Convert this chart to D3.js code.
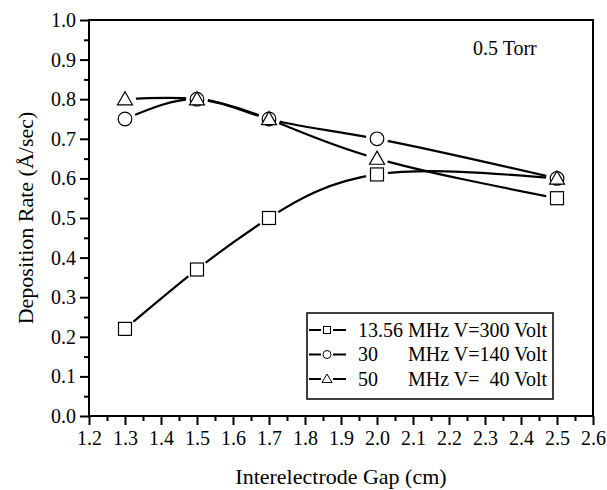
<!DOCTYPE html>
<html><head><meta charset="utf-8">
<script src="https://cdn.jsdelivr.net/npm/d3@7"></script>
<style>body{margin:0;background:#fff}svg{display:block}text{font-family:"Liberation Serif","Times New Roman",serif;fill:#000}</style>
</head><body><svg id="c" width="607" height="490"></svg>
<script>
const gaps = [1.3, 1.5, 1.7, 2.0, 2.5];
// marker values as plotted
const rate1356 = [0.22, 0.37, 0.50, 0.61, 0.55];
const rate30 = [0.75, 0.80, 0.75, 0.70, 0.60];
const rate50 = [0.80, 0.80, 0.75, 0.65, 0.60];
// connecting curves as drawn in the figure (last segments end at the other series' marker)
const curve1356 = [0.22, 0.37, 0.50, 0.61, 0.60];
const curve30 = [0.75, 0.80, 0.75, 0.70, 0.60];
const curve50 = [0.80, 0.80, 0.75, 0.65, 0.55];
const seriesNames = ["13.56 MHz V=300 Volt", "30      MHz V=140 Volt", "50      MHz V=  40 Volt"];
const seriesMarkers = ["square", "circle", "triangle"];
const xTicks = [1.2,1.3,1.4,1.5,1.6,1.7,1.8,1.9,2.0,2.1,2.2,2.3,2.4,2.5,2.6];
const yTicks = [0.0,0.1,0.2,0.3,0.4,0.5,0.6,0.7,0.8,0.9,1.0];
const annotation = "0.5 Torr";

const svg = d3.select("#c");
const L = 89, R = 593, T = 20, B = 416;
const x = d3.scaleLinear().domain([1.2, 2.6]).range([L, R]);
const y = d3.scaleLinear().domain([0, 1]).range([B, T]);

const xMinor = d3.range(1.25, 2.6, 0.1);
const yMinor = d3.range(0.05, 1.0, 0.1);
svg.append("g").attr("transform", `translate(0,${B})`)
  .call(d3.axisBottom(x).tickValues(xTicks).tickFormat(d3.format(".1f")).tickSize(9).tickPadding(6))
  .call(g => g.select(".domain").remove())
  .call(g => g.selectAll("line").attr("stroke-width", 2))
  .call(g => g.selectAll("text").attr("font-size", 20));
svg.append("g").attr("transform", `translate(0,${B})`)
  .call(d3.axisBottom(x).tickValues(xMinor).tickFormat("").tickSize(5))
  .call(g => g.select(".domain").remove())
  .call(g => g.selectAll("line").attr("stroke-width", 2));
svg.append("g").attr("transform", `translate(${L},0)`)
  .call(d3.axisLeft(y).tickValues(yTicks).tickFormat(d3.format(".1f")).tickSize(9).tickPadding(4))
  .call(g => g.select(".domain").remove())
  .call(g => g.selectAll("line").attr("stroke-width", 2))
  .call(g => g.selectAll("text").attr("font-size", 20));
svg.append("g").attr("transform", `translate(${L},0)`)
  .call(d3.axisLeft(y).tickValues(yMinor).tickFormat("").tickSize(5))
  .call(g => g.select(".domain").remove())
  .call(g => g.selectAll("line").attr("stroke-width", 2));

svg.append("rect").attr("x", L).attr("y", T).attr("width", R - L).attr("height", B - T)
  .attr("fill", "none").attr("stroke", "#000").attr("stroke-width", 2);

svg.append("text").attr("x", (L + R) / 2).attr("y", 484).attr("text-anchor", "middle")
  .attr("font-size", 22).text("Interelectrode Gap (cm)");
svg.append("text").attr("transform", `translate(33,${(T + B) / 2}) rotate(-90)`).attr("text-anchor", "middle")
  .attr("font-size", 22).text("Deposition Rate (Å/sec)");
svg.append("text").attr("x", 473).attr("y", 55).attr("font-size", 20).text(annotation);

const series = [rate1356, rate30, rate50];
const curves = [curve1356, curve30, curve50];
const defs = svg.append("defs");
const line = d3.line().x(d => x(d[0])).y(d => y(d[1])).curve(d3.curveNatural);

function marker(g, type, cx, cy) {
  if (type === "square") {
    g.append("rect").attr("x", cx - 6.5).attr("y", cy - 6.5).attr("width", 13).attr("height", 13)
      .attr("fill", "#fff").attr("stroke", "#000").attr("stroke-width", 1.2);
  } else if (type === "circle") {
    g.append("circle").attr("cx", cx).attr("cy", cy).attr("r", 6.8)
      .attr("fill", "#fff").attr("stroke", "#000").attr("stroke-width", 1.2);
  } else {
    const s = 7.5;
    g.append("path").attr("d", `M${cx},${cy - s}L${cx + s},${cy + s * 0.75}L${cx - s},${cy + s * 0.75}Z`)
      .attr("fill", "#fff").attr("stroke", "#000").attr("stroke-width", 1.2);
  }
}

curves.forEach((vals, i) => {
  const pts = gaps.map((g, j) => [g, vals[j]]);
  const m = defs.append("mask").attr("id", "m" + i).attr("maskUnits", "userSpaceOnUse")
    .attr("x", 0).attr("y", 0).attr("width", 607).attr("height", 490);
  m.append("rect").attr("width", 607).attr("height", 490).attr("fill", "#fff");
  pts.forEach(p => m.append("circle").attr("cx", x(p[0])).attr("cy", y(p[1])).attr("r", 11).attr("fill", "#000"));
  svg.append("path").datum(pts).attr("d", line).attr("fill", "none").attr("stroke", "#000")
    .attr("stroke-width", 2.2).attr("mask", `url(#m${i})`);
});
series.forEach((vals, i) => {
  const g = svg.append("g");
  gaps.forEach((gp, j) => marker(g, seriesMarkers[i], x(gp), y(vals[j])));
});

const lg = svg.append("g");
lg.append("rect").attr("x", 307).attr("y", 313).attr("width", 246).attr("height", 86)
  .attr("fill", "#fff").attr("stroke", "#000").attr("stroke-width", 1.5);
seriesNames.forEach((name, i) => {
  const cy = 330 + i * 24.5;
  lg.append("line").attr("x1", 309).attr("x2", 321).attr("y1", cy).attr("y2", cy).attr("stroke", "#000").attr("stroke-width", 2);
  lg.append("line").attr("x1", 333).attr("x2", 346).attr("y1", cy).attr("y2", cy).attr("stroke", "#000").attr("stroke-width", 2);
  const mg = lg.append("g");
  if (seriesMarkers[i] === "square") {
    mg.append("rect").attr("x", 323.5).attr("y", cy - 3.5).attr("width", 7).attr("height", 7).attr("fill", "#fff").attr("stroke", "#000").attr("stroke-width", 1);
  } else if (seriesMarkers[i] === "circle") {
    mg.append("circle").attr("cx", 327).attr("cy", cy).attr("r", 4).attr("fill", "#fff").attr("stroke", "#000").attr("stroke-width", 1);
  } else {
    mg.append("path").attr("d", `M327,${cy - 5}L332,${cy + 3.5}L322,${cy + 3.5}Z`).attr("fill", "#fff").attr("stroke", "#000").attr("stroke-width", 1);
  }
  lg.append("text").attr("x", 358).attr("y", cy + 6.5).attr("font-size", 20)
    .attr("xml:space", "preserve").style("white-space", "pre").text(name);
});
</script></body></html>
